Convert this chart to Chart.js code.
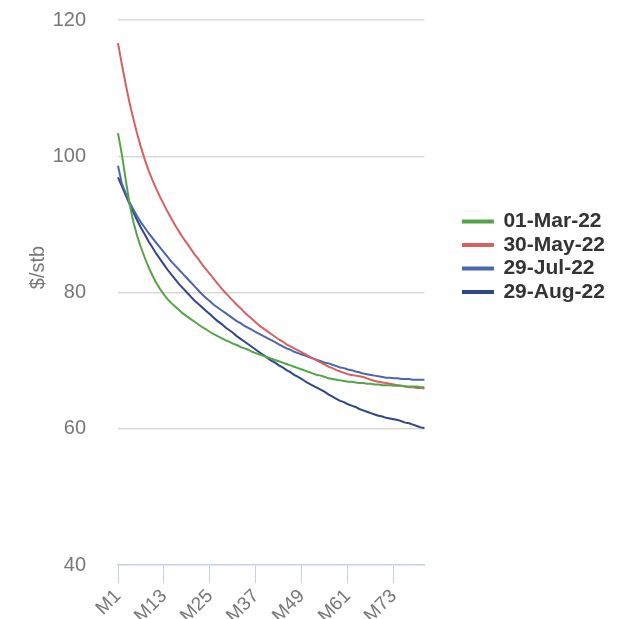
<!DOCTYPE html>
<html>
<head>
<meta charset="utf-8">
<script src="https://cdn.jsdelivr.net/npm/chart.js@4.4.0/dist/chart.umd.min.js"></script>
<style>
  html, body { margin: 0; padding: 0; background: #fff; }
  #wrap { width: 617px; height: 619px; }
</style>
</head>
<body>
<div id="wrap"><canvas id="prices"></canvas></div>
<script>
// month labels M1..M81, only every 12th is shown on the axis
const months = Array.from({ length: 81 }, (_, i) => 'M' + (i + 1));
const yTicks = [40, 60, 80, 100, 120];

const mar22 = [103.4, 100.3, 96.6, 93.1, 90.4, 88.3, 86.6, 85.1, 83.7, 82.5,
    81.4, 80.5, 79.7, 79.0, 78.4, 77.9, 77.4, 76.9, 76.5, 76.1,
    75.7, 75.3, 74.9, 74.6, 74.2, 73.9, 73.6, 73.3, 73.0, 72.8,
    72.5, 72.3, 72.0, 71.8, 71.6, 71.3, 71.1, 70.9, 70.7, 70.5,
    70.3, 70.1, 69.9, 69.7, 69.5, 69.3, 69.1, 68.9, 68.7, 68.5,
    68.3, 68.1, 67.9, 67.8, 67.6, 67.4, 67.3, 67.2, 67.1, 67.0,
    66.9, 66.9, 66.8, 66.7, 66.7, 66.6, 66.6, 66.5, 66.5, 66.4,
    66.4, 66.4, 66.3, 66.3, 66.3, 66.2, 66.2, 66.2, 66.2, 66.1, 66.1];

const may22 = [116.6, 113.5, 110.6, 107.9, 105.5, 103.3, 101.3, 99.5, 97.9, 96.5,
    95.2, 94.0, 92.9, 91.8, 90.8, 89.8, 88.9, 88.0, 87.2, 86.4,
    85.6, 84.9, 84.1, 83.4, 82.7, 82.0, 81.3, 80.6, 80.0, 79.4,
    78.8, 78.2, 77.7, 77.1, 76.6, 76.1, 75.6, 75.1, 74.7, 74.3,
    73.9, 73.5, 73.1, 72.8, 72.4, 72.1, 71.8, 71.5, 71.2, 70.9,
    70.6, 70.3, 70.0, 69.7, 69.4, 69.1, 68.9, 68.6, 68.4, 68.2,
    68.0, 67.9, 67.8, 67.7, 67.6, 67.4, 67.2, 67.0, 66.9, 66.8,
    66.7, 66.6, 66.5, 66.4, 66.3, 66.2, 66.1, 66.1, 66.0, 66.0, 65.9];

const jul22 = [98.6, 96.0, 94.6, 93.3, 92.2, 91.2, 90.3, 89.5, 88.7, 88.0,
    87.3, 86.6, 85.9, 85.2, 84.5, 83.9, 83.3, 82.7, 82.1, 81.5,
    80.9, 80.3, 79.7, 79.2, 78.7, 78.2, 77.8, 77.4, 77.0, 76.6,
    76.2, 75.8, 75.5, 75.1, 74.8, 74.5, 74.2, 73.9, 73.6, 73.3,
    73.0, 72.7, 72.4, 72.1, 71.8, 71.6, 71.3, 71.1, 70.9, 70.7,
    70.5, 70.3, 70.1, 69.9, 69.7, 69.6, 69.4, 69.2, 69.0, 68.9,
    68.7, 68.6, 68.4, 68.3, 68.1, 68.0, 67.9, 67.8, 67.7, 67.6,
    67.5, 67.5, 67.4, 67.4, 67.3, 67.3, 67.3, 67.2, 67.2, 67.2, 67.2];

const aug22 = [96.9, 95.6, 94.3, 93.0, 91.8, 90.6, 89.5, 88.5, 87.5, 86.6,
    85.7, 84.9, 84.1, 83.3, 82.6, 81.9, 81.2, 80.6, 80.0, 79.4,
    78.8, 78.3, 77.8, 77.3, 76.8, 76.3, 75.8, 75.4, 74.9, 74.5,
    74.1, 73.6, 73.2, 72.8, 72.4, 72.0, 71.6, 71.2, 70.8, 70.4,
    70.0, 69.7, 69.3, 69.0, 68.6, 68.3, 67.9, 67.6, 67.3, 66.9,
    66.6, 66.3, 66.0, 65.7, 65.4, 65.0, 64.7, 64.4, 64.1, 63.9,
    63.6, 63.4, 63.2, 62.9, 62.7, 62.5, 62.3, 62.1, 61.9, 61.8,
    61.6, 61.5, 61.4, 61.3, 61.1, 60.9, 60.8, 60.6, 60.4, 60.2, 60.1];

const series = [
    { label: '01-Mar-22', data: mar22, color: '#55a447' },
    { label: '30-May-22', data: may22, color: '#d6625f' },
    { label: '29-Jul-22', data: jul22, color: '#4a67ae' },
    { label: '29-Aug-22', data: aug22, color: '#2f4689' },
];

const grey = '#777';
const font = 'Liberation Sans, Arial, sans-serif';

new Chart(document.getElementById('prices'), {
    type: 'line',
    data: {
        labels: months,
        datasets: series.map(s => ({
            label: s.label,
            data: s.data,
            borderColor: s.color,
            backgroundColor: s.color,
            borderWidth: 2,
            pointRadius: 0,
            tension: 0,
        })),
    },
    options: {
        responsive: true,
        maintainAspectRatio: false,
        animation: false,
        layout: { padding: { top: 20, right: 2, bottom: 0, left: 0 } },
        plugins: {
            tooltip: { enabled: false },
            legend: {
                position: 'right',
                align: 'start',
                maxWidth: 170,
                title: { display: true, text: '', padding: { top: 174, bottom: 0 } },
                labels: {
                    boxWidth: 30,
                    boxHeight: 2,
                    padding: 2.5,
                    color: '#333',
                    font: { family: font, size: 21, weight: 'bold' },
                },
            },
        },
        scales: {
            x: {
                grid: { drawOnChartArea: false, drawTicks: true, tickLength: 18, color: '#c3d1e8' },
                border: { color: '#c3d1e8', width: 1.5 },
                ticks: {
                    autoSkip: false,
                    minRotation: 45,
                    maxRotation: 45,
                    color: grey,
                    font: { family: font, size: 19 },
                    padding: 2,
                    callback: (v, i) => (i % 12 === 0 ? months[i] : null),
                },
                afterFit: s => { s.height = 54; },
            },
            y: {
                min: yTicks[0],
                max: yTicks[yTicks.length - 1],
                afterBuildTicks: s => { s.ticks = yTicks.map(v => ({ value: v })); },
                grid: {
                    drawTicks: true,
                    tickLength: 29,
                    tickColor: 'rgba(0,0,0,0)',
                    lineWidth: 1.5,
                    color: c => (c.tick && c.tick.value === 40 ? 'rgba(0,0,0,0)' : '#d8d8d8'),
                },
                border: { display: false },
                ticks: { color: grey, padding: 3, font: { family: font, size: 20 } },
                title: {
                    display: true,
                    // leading spaces push the rotated title a bit above the middle
                    text: '         $/stb',
                    color: grey,
                    font: { family: font, size: 20 },
                    padding: { top: 26, bottom: 0 },
                },
                afterFit: s => { s.width = 118; },
            },
            // empty axis, only keeps the gap between plot and legend
            gap: {
                type: 'linear',
                position: 'right',
                grid: { display: false, drawTicks: false },
                border: { display: false },
                ticks: { display: false },
                afterFit: s => { s.width = 36; },
            },
        },
    },
});
</script>
</body>
</html>
